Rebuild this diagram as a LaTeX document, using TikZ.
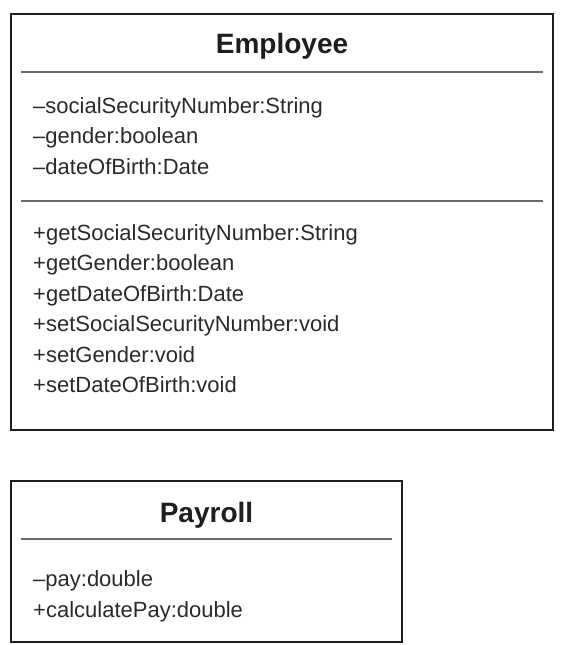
\documentclass[tikz,border=0pt]{standalone}
\usepackage{fontspec}
\setmainfont{Liberation Sans}
\usetikzlibrary{positioning}
\definecolor{BoxInk}{HTML}{1E1E1E}
\definecolor{RuleGray}{HTML}{6A6A6A}
\definecolor{TextInk}{HTML}{2A2A2A}

\begin{document}
\begin{tikzpicture}[
        x=1pt, y=-1pt,
        classbox/.style={draw=BoxInk, line width=2.6pt},
        rule/.style={draw=RuleGray, line width=1.4pt},
        title/.style={inner sep=0pt, anchor=base, font=\fontsize{28}{30}\selectfont\bfseries, text=BoxInk},
        members/.style={inner sep=0pt, anchor=base west, align=left, font=\fontsize{22}{30.5}\selectfont, text=TextInk}
    ]
        \useasboundingbox (0,0) rectangle (562,645);
        % Employee class (members placed by the baseline of their last line)
        \draw[classbox] (11,14) rectangle (553,430);
        \node[title] (emp) at (282,53) {Employee};
        \draw[rule] (21,72) -- (543,72);
        \node[members] (empattr) at (33,174) {–socialSecurityNumber:String\\–gender:boolean\\–dateOfBirth:Date};
        \draw[rule] (21,201) -- (543,201);
        \node[members] (empops) at (33,392.5) {+getSocialSecurityNumber:String\\+getGender:boolean\\+getDateOfBirth:Date\\+setSocialSecurityNumber:void\\+setGender:void\\+setDateOfBirth:void};
        % Payroll class
        \draw[classbox] (11,481) rectangle (402,642);
        \node[title] (pay) at (206.5,522) {Payroll};
        \draw[rule] (21,539) -- (392,539);
        \node[members] (payitems) at (33,617) {–pay:double\\+calculatePay:double};
    \end{tikzpicture}
\end{document}
